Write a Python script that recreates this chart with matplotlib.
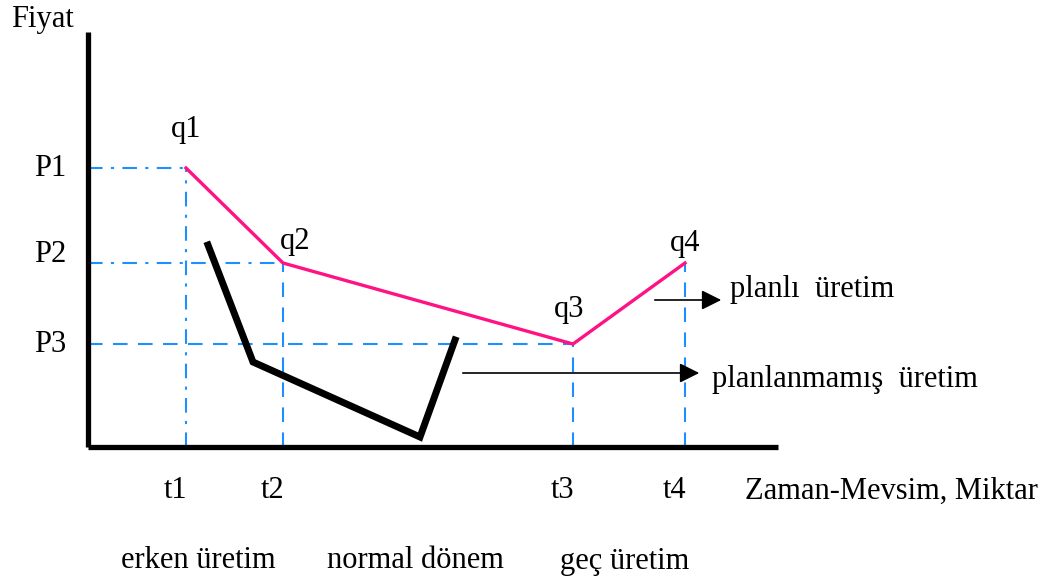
import matplotlib
matplotlib.use('Agg')
import matplotlib.pyplot as plt

# time points on the horizontal axis and price levels on the vertical axis
t_labels = ['t1', 't2', 't3', 't4']
t_values = [98, 195, 485, 597]
p_labels = ['P1', 'P2', 'P3']
p_values = [279, 184, 103]

# planned production (pink) and unplanned production (black)
planned_x = [98, 195, 485, 597]
planned_y = [279, 184, 103, 184]
planned_labels = ['q1', 'q2', 'q3', 'q4']
unplanned_x = [120, 165, 332, 367]
unplanned_y = [202, 85, 10, 107]

periods = ['erken üretim', 'normal dönem', 'geç üretim']
period_x = [110, 327, 537]

plt.rcParams['font.family'] = ['Liberation Serif', 'DejaVu Serif']

fig = plt.figure(figsize=(10.5, 5.84), dpi=100)
ax = fig.add_axes([0, 0, 1, 1])
ax.set_xlim(-88, 962)
ax.set_ylim(-137, 447)
ax.axis('off')

blue = '#1e8fff'
dashdot = (0, (7, 4, 1.5, 4))
dashed = (0, (7, 5))

# guide lines from axes to the points
ax.plot([0, t_values[0]], [p_values[0]] * 2, color=blue, lw=1.5, linestyle=dashdot)
ax.plot([t_values[0]] * 2, [0, p_values[0]], color=blue, lw=1.5, linestyle=dashdot)
ax.plot([0, t_values[1]], [p_values[1]] * 2, color=blue, lw=1.5, linestyle=dashdot)
ax.plot([t_values[1]] * 2, [0, p_values[1]], color=blue, lw=1.5, linestyle=dashed)
ax.plot([0, t_values[2]], [p_values[2]] * 2, color=blue, lw=1.5, linestyle=dashed)
ax.plot([t_values[2]] * 2, [0, p_values[2]], color=blue, lw=1.5, linestyle=dashed)
ax.plot([t_values[3]] * 2, [0, p_values[1]], color=blue, lw=1.5, linestyle=dashed)

# axes
ax.plot([0, 0], [0, 415], color='black', lw=3.8, solid_capstyle='butt')
ax.plot([0, 690], [0, 0], color='black', lw=3.8, solid_capstyle='butt')

# curves
ax.plot(planned_x, planned_y, color='#ff1283', lw=2.4)
ax.plot(unplanned_x, unplanned_y, color='black', lw=5, solid_joinstyle='miter')

# arrows to the legend-like labels
ax.annotate('', xy=(636, 147), xytext=(564, 147),
            arrowprops=dict(arrowstyle='-|>', color='black', lw=1.2, mutation_scale=30))
ax.annotate('', xy=(614, 74), xytext=(372, 74),
            arrowprops=dict(arrowstyle='-|>', color='black', lw=1.2, mutation_scale=30))

fs = 22
ax.text(-46, 427, 'Fiyat', fontsize=fs, ha='center', va='center')
for lab, y in zip(p_labels, p_values):
    ax.text(-38, y + (8 if lab == 'P2' else 0), lab, fontsize=fs, ha='center', va='center')
offsets = [(0, 38), (12, 22), (-4, 34), (0, 20)]
for lab, x, y, (dx, dy) in zip(planned_labels, planned_x, planned_y, offsets):
    ax.text(x + dx, y + dy, lab, fontsize=fs, ha='center', va='center')
for lab, x in zip(t_labels, t_values):
    ax.text(x - 10, -44, lab, fontsize=fs, ha='center', va='center')
ax.text(657, -44, 'Zaman-Mevsim, Miktar', fontsize=fs, ha='left', va='center')
ax.text(642, 158, 'planlı  üretim', fontsize=fs, ha='left', va='center')
ax.text(624, 68, 'planlanmamış  üretim', fontsize=fs, ha='left', va='center')
for lab, x in zip(periods, period_x):
    ax.text(x, -114, lab, fontsize=fs, ha='center', va='center')

fig.savefig('out.png', dpi=100)
